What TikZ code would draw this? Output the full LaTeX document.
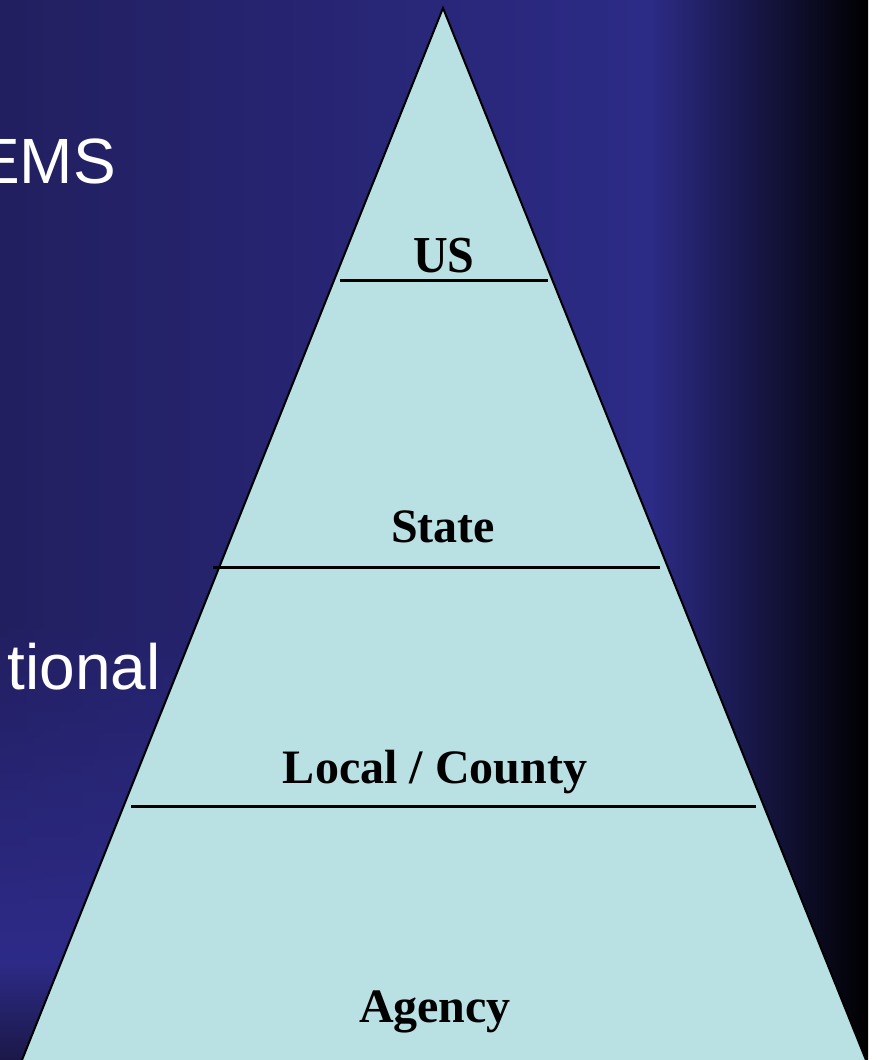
\documentclass[tikz,border=0pt]{standalone}
\usepackage{fontspec}
\usetikzlibrary{fadings}
\setmainfont{Liberation Serif}
\newfontfamily\arialf{Liberation Sans}
\definecolor{bgA}{HTML}{221F60}
\definecolor{bgB}{HTML}{2C2B86}
\definecolor{bgC}{HTML}{2D2B88}
\definecolor{bgD}{HTML}{1B1848}
\definecolor{tri}{HTML}{B9E0E3}
\begin{document}
\begin{tikzpicture}[x=1pt,y=-1pt,
  lbl/.style={font=\fontsize{48}{48}\selectfont\bfseries, inner sep=0pt, anchor=base, text=black},
  slide/.style={font=\arialf\fontsize{64}{64}\selectfont, inner sep=0pt, anchor=base east, text=white},
  sepline/.style={line width=3pt, draw=black},
  pyr/.style={fill=tri, draw=black, line width=2pt, line join=miter}]
\useasboundingbox (0,0) rectangle (877,1060);
\clip (0,0) rectangle (877,1060);
% background
\fill[white] (0,0) rectangle (877,1060);
\shade[left color=bgA, right color=bgB] (0,0) rectangle (650,1060);
\shade[left color=bgB, right color=black] (650,0) rectangle (868,1060);
\fill[bgC, path fading=north] (0,620) rectangle (250,960);
\shade[top color=bgC, bottom color=bgD] (0,960) rectangle (250,1060);
% slide text
\node[slide] (ems) at (116,183) {EMS};
\node[slide] (tional) at (161,689) {tional};
% pyramid
\coordinate (apex) at (443,8);
\coordinate (bl) at (18,1070);
\coordinate (br) at (870,1070);
\filldraw[pyr] (bl) -- (apex) -- (br) -- cycle;
% separators
\coordinate (s1a) at (340,280); \coordinate (s1b) at (548,280);
\coordinate (s2a) at (213,567); \coordinate (s2b) at (660,567);
\coordinate (s3a) at (131,806); \coordinate (s3b) at (756,806);
\draw[sepline] (s1a) -- (s1b);
\draw[sepline] (s2a) -- (s2b);
\draw[sepline] (s3a) -- (s3b);
% labels
\node[lbl, yscale=1.08] (us) at (444,272) {US};
\node[lbl] (state) at (443,542) {State};
\node[lbl] (local) at (435,783) {Local / County};
\node[lbl] (agency) at (435,1022) {Agency};
\end{tikzpicture}
\end{document}
